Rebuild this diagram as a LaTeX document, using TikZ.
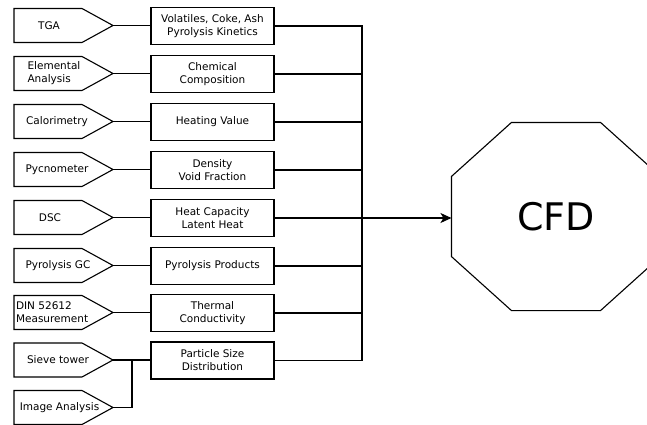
\documentclass[tikz,border=0pt]{standalone}
\usepackage{fontspec}
\setmainfont{DejaVu Sans}
\usetikzlibrary{calc,arrows.meta}
\begin{document}
\begin{tikzpicture}[x=1pt,y=-1pt,line width=1.1pt,
  outbox/.style={draw, minimum width=123pt, minimum height=37pt, inner sep=0pt, align=center, font=\fontsize{10.5}{13}\selectfont},
  lbl/.style={inner sep=0pt, align=left, font=\fontsize{10.5}{13}\selectfont},
  penta/.style={draw, line join=miter},
  conn/.style={draw, line width=1.1pt},
  bigarrow/.style={-{Stealth[length=11pt,width=10pt,inset=3pt]}}]
\useasboundingbox (0,0) rectangle (647,425);
% pentagon helper
\newcommand\mypenta[2]{%
  \draw[penta] (14,#2-17) -- (82,#2-17) -- (113,#2) -- (82,#2+17) -- (14,#2+17) -- cycle;
  \coordinate (#1) at (113,#2);}
\mypenta{ptga}{25.5}
\mypenta{pele}{73.5}
\mypenta{pcal}{121.5}
\mypenta{ppyc}{169.5}
\mypenta{pdsc}{217.5}
\mypenta{pgc}{265.5}
\mypenta{pdin}{312.5}
\mypenta{psieve}{360}
\mypenta{pimg}{407.5}
% pentagon labels
\node[lbl] (ltga) at (49,25.5) {TGA};
\node[lbl, anchor=west] (lele) at (27,73.5) {Elemental\\Analysis};
\node[lbl] (lcal) at (57,121.5) {Calorimetry};
\node[lbl] (lpyc) at (57,169.5) {Pycnometer};
\node[lbl] (ldsc) at (50,217.5) {DSC};
\node[lbl] (lgc) at (58,265.5) {Pyrolysis GC};
\node[lbl, anchor=west] (ldin) at (15.5,312.5) {DIN 52612\\Measurement};
\node[lbl] (lsieve) at (58,360) {Sieve tower};
\node[lbl] (limg) at (59.5,407.5) {Image Analysis};
% property boxes
\node[outbox] (b1) at (212.5,26) {Volatiles, Coke, Ash\\Pyrolysis Kinetics};
\node[outbox] (b2) at (212.5,74) {Chemical\\Composition};
\node[outbox] (b3) at (212.5,122) {Heating Value};
\node[outbox] (b4) at (212.5,170) {Density\\Void Fraction};
\node[outbox] (b5) at (212.5,218) {Heat Capacity\\Latent Heat};
\node[outbox] (b6) at (212.5,266) {Pyrolysis Products};
\node[outbox] (b7) at (212.5,313) {Thermal\\Conductivity};
\node[outbox] (b8) at (212.5,360.5) {Particle Size\\Distribution};
% CFD octagon
\node[minimum width=208pt, minimum height=187pt, inner sep=0pt, font=\fontsize{38}{40}\selectfont] (cfd) at (556,216.5) {CFD};
\begin{scope}
\clip (0,0) rectangle (647,425);
\draw[line join=miter] ($(cfd.north west)+(60,0)$) -- ($(cfd.north east)+(-60,0)$) -- ($(cfd.north east)+(0,54)$) -- ($(cfd.south east)+(0,-54)$) -- ($(cfd.south east)+(-60,0)$) -- ($(cfd.south west)+(60,0)$) -- ($(cfd.south west)+(0,-54)$) -- ($(cfd.north west)+(0,54)$) -- cycle;
\end{scope}
% connectors pentagon -> box
\draw[conn] (ptga) -- (ptga -| b1.west);
\draw[conn] (pele) -- (pele -| b2.west);
\draw[conn] (pcal) -- (pcal -| b3.west);
\draw[conn] (ppyc) -- (ppyc -| b4.west);
\draw[conn] (pdsc) -- (pdsc -| b5.west);
\draw[conn] (pgc) -- (pgc -| b6.west);
\draw[conn] (pdin) -- (pdin -| b7.west);
\draw[conn] (psieve) -- (psieve -| b8.west);
\coordinate (jn) at (132,360);
\draw[conn] (pimg) -| (jn);
% bus
\coordinate (bustop) at (362,26);
\coordinate (busbot) at (362,360.5);
\draw[conn] (b1.east) -- (bustop);
\draw[conn] (b2.east) -- (b2.east -| bustop);
\draw[conn] (b3.east) -- (b3.east -| bustop);
\draw[conn] (b4.east) -- (b4.east -| bustop);
\draw[conn] (b5.east) -- (b5.east -| bustop);
\draw[conn] (b6.east) -- (b6.east -| bustop);
\draw[conn] (b7.east) -- (b7.east -| bustop);
\draw[conn] (b8.east) -- (busbot);
\draw[conn, line cap=rect] (bustop) -- (busbot);
\draw[conn, bigarrow] (b5.east -| bustop) -- (b5.east -| cfd.west);
\end{tikzpicture}
\end{document}
